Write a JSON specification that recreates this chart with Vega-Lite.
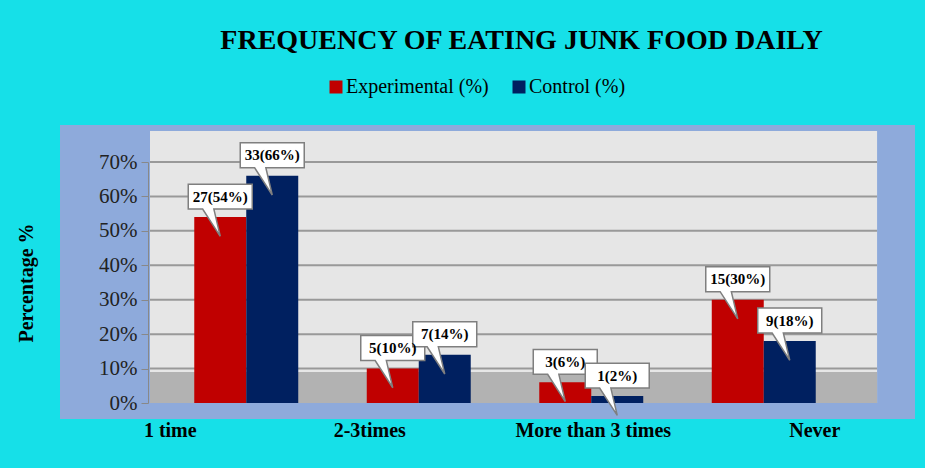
{
  "$schema": "https://vega.github.io/schema/vega-lite/v6.json",
  "width": 855,
  "height": 294,
  "autosize": {"type": "none"},
  "padding": {"left": 60, "top": 125, "right": 10, "bottom": 49},
  "background": "#16e0e8",
  "title": {
    "text": "FREQUENCY OF EATING  JUNK FOOD DAILY",
    "font": "Liberation Serif",
    "fontSize": 28,
    "fontWeight": "bold",
    "color": "black",
    "anchor": "middle",
    "frame": "group",
    "dx": 34,
    "offset": 0,
    "baseline": "alphabetic"
  },
  "config": {
    "view": {"fill": "#8eaadb", "stroke": null},
    "font": "Liberation Serif"
  },
  "datasets": {
    "freq": [
      {"freq": "1 time", "group": "Experimental (%)", "pct": 54, "label": "27(54%)"},
      {"freq": "1 time", "group": "Control (%)", "pct": 66, "label": "33(66%)"},
      {"freq": "2-3times", "group": "Experimental (%)", "pct": 10, "label": "5(10%)"},
      {"freq": "2-3times", "group": "Control (%)", "pct": 14, "label": "7(14%)"},
      {"freq": "More than 3 times", "group": "Experimental (%)", "pct": 6, "label": "3(6%)"},
      {"freq": "More than 3 times", "group": "Control (%)", "pct": 2, "label": "1(2%)"},
      {"freq": "Never", "group": "Experimental (%)", "pct": 30, "label": "15(30%)"},
      {"freq": "Never", "group": "Control (%)", "pct": 18, "label": "9(18%)"}
    ],
    "grid": [{"v": 10}, {"v": 20}, {"v": 30}, {"v": 40}, {"v": 50}, {"v": 60}, {"v": 70}],
    "one": [{"part": "wall"}]
  },
  "layer": [
    {
      "data": {"name": "one"},
      "mark": {"type": "rect", "color": "#e6e6e6"},
      "encoding": {
        "x": {"datum": "1 time", "type": "nominal", "bandPosition": -0.058},
        "x2": {"datum": "Never", "bandPosition": 1.157},
        "y": {"datum": 0, "type": "quantitative"},
        "y2": {"datum": 79}
      }
    },
    {
      "data": {"name": "one"},
      "mark": {"type": "rect", "color": "#b2b2b2"},
      "encoding": {
        "x": {"datum": "1 time", "type": "nominal", "bandPosition": -0.058},
        "x2": {"datum": "Never", "bandPosition": 1.157},
        "y": {"datum": 0, "type": "quantitative"},
        "y2": {"datum": 9}
      }
    },
    {
      "data": {"name": "grid"},
      "mark": {"type": "rule", "color": "#999999", "strokeWidth": 2},
      "encoding": {
        "x": {"datum": "1 time", "type": "nominal", "bandPosition": -0.058},
        "x2": {"datum": "Never", "bandPosition": 1.157},
        "y": {"field": "v", "type": "quantitative"}
      }
    },
    {
      "data": {"name": "freq"},
      "mark": {"type": "bar"},
      "encoding": {
        "x": {
          "field": "freq",
          "type": "nominal",
          "sort": null,
          "scale": {"domain": ["1 time", "2-3times", "More than 3 times", "Never"], "range": [100, 790], "paddingInner": 0, "paddingOuter": 0},
          "axis": {
            "title": null,
            "labelAngle": 0,
            "labelAlign": "center",
            "domain": false,
            "ticks": false,
            "grid": false,
            "labelFontSize": 20,
            "labelFontWeight": "bold",
            "labelColor": "black",
            "labelPadding": 11,
            "labelFont": "Liberation Serif",
            "labelOffset": {"expr": "datum.value == '1 time' ? -76 : datum.value == '2-3times' ? -49 : datum.value == 'Never' ? 51 : 2"}
          }
        },
        "xOffset": {
          "field": "group",
          "type": "nominal",
          "scale": {"domain": ["Experimental (%)", "Control (%)"], "paddingInner": 0, "paddingOuter": 0.659}
        },
        "y": {
          "field": "pct",
          "type": "quantitative",
          "scale": {"domain": [0, 70], "range": [278, 37], "nice": false},
          "axis": {
            "values": [0, 10, 20, 30, 40, 50, 60, 70],
            "labelExpr": "datum.value + '%'",
            "grid": false,
            "offset": -88,
            "domain": true,
            "domainColor": "#888888",
            "tickColor": "#888888",
            "tickSize": 7,
            "labelFontSize": 21,
            "labelColor": "#222222",
            "labelPadding": 4,
            "labelFont": "Liberation Serif",
            "title": "Percentage %",
            "titleFont": "Liberation Serif",
            "titleFontSize": 20,
            "titleFontWeight": "bold",
            "titleColor": "black",
            "titlePadding": 62
          }
        },
        "color": {
          "field": "group",
          "type": "nominal",
          "scale": {"domain": ["Experimental (%)", "Control (%)"], "range": ["#c00000", "#002060"]},
          "legend": {
            "orient": "none",
            "legendX": 266,
            "legendY": -48,
            "direction": "horizontal",
            "title": null,
            "symbolType": "square",
            "symbolSize": 169,
            "symbolStrokeWidth": 0,
            "labelFontSize": 20,
            "labelFont": "Liberation Serif",
            "labelColor": "black",
            "labelOffset": 0,
            "columnPadding": 20
          }
        }
      }
    },
    {
      "data": {"name": "freq"},
      "mark": {"type": "point", "filled": true, "fill": "white", "stroke": "#7f7f7f", "strokeWidth": 1.5, "opacity": 1, "size": 4096, "shape": "M-1,-1.03H1V-0.25H-0.2L0,0.6L-0.55,-0.25H-1Z"},
      "encoding": {
        "x": {"field": "freq", "type": "nominal", "sort": null},
        "xOffset": {"field": "group", "type": "nominal"},
        "y": {"field": "pct", "type": "quantitative"}
      }
    },
    {
      "data": {"name": "freq"},
      "mark": {"type": "text", "dy": -20.5, "fontSize": 15, "fontWeight": "bold", "font": "Liberation Serif", "color": "black", "baseline": "middle", "align": "center"},
      "encoding": {
        "x": {"field": "freq", "type": "nominal", "sort": null},
        "xOffset": {"field": "group", "type": "nominal"},
        "y": {"field": "pct", "type": "quantitative"},
        "text": {"field": "label"}
      }
    }
  ]
}
